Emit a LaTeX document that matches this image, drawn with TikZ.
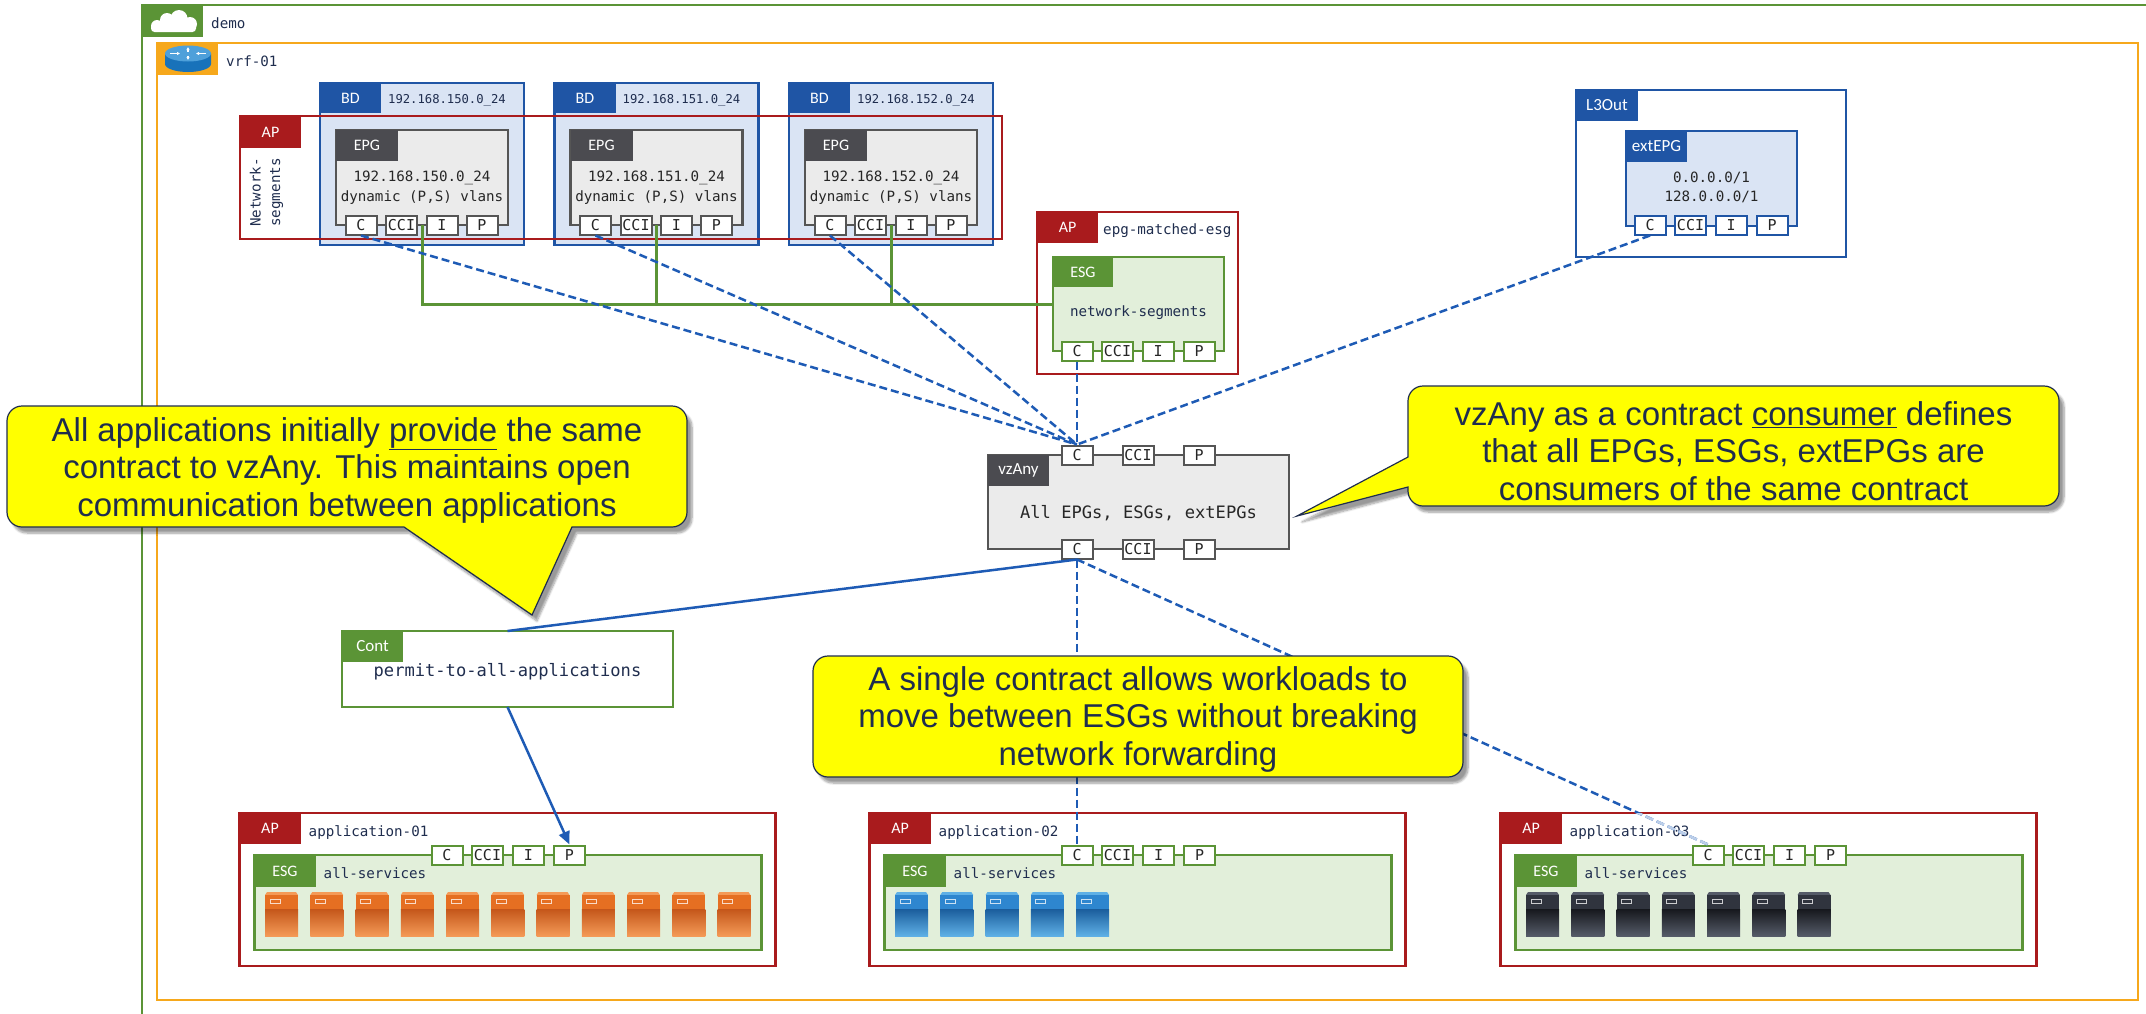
\documentclass[tikz,border=0pt]{standalone}
\usepackage{fontspec}
\setmainfont{Liberation Sans}
\newfontfamily\monof{DejaVu Sans Mono}
\newfontfamily\tabf{Carlito}
\usetikzlibrary{arrows.meta,shadows.blur}

\definecolor{tgreen}{HTML}{5B9436}
\definecolor{esgfill}{HTML}{E2EFDA}
\definecolor{vrforange}{HTML}{F6A81C}
\definecolor{apred}{HTML}{A91B1D}
\definecolor{bdblue}{HTML}{1F55A5}
\definecolor{bdfill}{HTML}{DAE4F4}
\definecolor{epgfill}{HTML}{EBEBEB}
\definecolor{epgline}{HTML}{555555}
\definecolor{epgtab}{HTML}{4B4B50}
\definecolor{linkblue}{HTML}{1E5BB5}
\definecolor{navy}{HTML}{1F2D4E}
\definecolor{calloutyellow}{HTML}{FFFF00}
\definecolor{rbody}{HTML}{1872BA}
\definecolor{rtop}{HTML}{4EA0DA}
% server colours: orange, blue, black
\definecolor{omain}{HTML}{E56F22}
\definecolor{olight}{HTML}{F49A57}
\definecolor{odark}{HTML}{C4561A}
\definecolor{bmain}{HTML}{2E86CF}
\definecolor{blight}{HTML}{5FB0E6}
\definecolor{bdark}{HTML}{1A5D9C}
\definecolor{kmain}{HTML}{30343E}
\definecolor{klight}{HTML}{555B68}
\definecolor{kdark}{HTML}{16181D}

\tikzset{
  boxframe/.style={rectangle, inner sep=0pt, outer sep=0pt, anchor=north west},
  tabbox/.style={boxframe, text=white, font=\tabf\fontsize{16}{18}\selectfont},
  lbl/.style={inner sep=0pt, anchor=base west, font=\monof\fontsize{14.2}{19.5}\selectfont, text=navy},
  bodytext/.style={inner sep=0pt, align=center, font=\monof\fontsize{14.2}{19.5}\selectfont, text=black!85},
  portbox/.style={rectangle, draw, fill=white, line width=2pt, minimum width=31pt, minimum height=19pt, inner sep=0pt, font=\monof\fontsize{15}{15}\selectfont, text=black!85},
  consumer/.style={draw=linkblue, line width=2.5pt, dash pattern=on 8pt off 4pt},
  provider/.style={draw=linkblue, line width=2.5pt},
  segbus/.style={draw=tgreen, line width=3pt},
  calloutbox/.style={fill=calloutyellow, draw=navy, line width=1.2pt, blur shadow={shadow xshift=5pt, shadow yshift=-6pt, shadow blur steps=8}},
  ctext/.style={inner sep=0pt, align=center, text=navy, font=\fontsize{33}{37.5}\selectfont},
}

% a server icon: top-left corner x, y and colour prefix
\newcommand\srvicon[3]{%
  \fill[#3light] ({#1+2},{#2}) -- ({#1+31},{#2}) -- ({#1+33},{#2+3}) -- ({#1},{#2+3}) -- cycle;
  \fill[#3main] ({#1},{#2+3}) rectangle ({#1+33},{#2+17});
  \shade[top color=#3dark, bottom color=#3light] ({#1},{#2+17}) rectangle ({#1+33},{#2+44});
  \draw[#3dark, line width=1pt] ({#1},{#2+17}) -- ({#1+33},{#2+17});
  \draw[white!75!#3main, line width=0.9pt] ({#1+5},{#2+7}) rectangle ({#1+15},{#2+11});
}

\begin{document}
\begin{tikzpicture}[x=1pt,y=-1pt]
\useasboundingbox (0,0) rectangle (2146,1013);
\clip (0,0) rectangle (2146,1013);

% ---------- tenant ----------
\node[boxframe, draw=tgreen, line width=2pt, minimum width=2200pt, minimum height=1200pt] (demo) at (142,5) {};
\node[tabbox, fill=tgreen, minimum width=61pt, minimum height=32pt] (demotab) at (142,5) {};
\fill[white] (157,26) circle (6) (167,20) circle (7) (179,18.5) circle (8.5) (190,24) circle (7);
\fill[white, rounded corners=3.5pt] (151,24) rectangle (196,32);
\node[lbl] (demolbl) at (211,28) {demo};

% ---------- VRF ----------
\node[boxframe, draw=vrforange, line width=2.5pt, minimum width=1981pt, minimum height=957pt] (vrf) at (157,43) {};
\node[tabbox, fill=vrforange, minimum width=61pt, minimum height=32pt] (vrftab) at (157,43) {};
\fill[rbody] (165,53.5) -- (165,64) arc[start angle=180, end angle=0, x radius=23, y radius=8] -- (211,53.5) -- cycle;
\fill[rtop] (188,53.5) ellipse[x radius=23, y radius=8];
\begin{scope}[white, line width=1.1pt, -{Latex[length=3pt,width=3.5pt]}]
  \draw (170,53.5) -- (180,53.5);
  \draw (206,53.5) -- (196,53.5);
  \draw (188,51.5) -- (188,47);
  \draw (188,55.5) -- (188,60);
\end{scope}
\node[lbl] (vrflbl) at (226,66.5) {vrf-01};

% ---------- bridge domains and EPGs ----------
\foreach \i/\x/\net in {1/320/150, 2/554.5/151, 3/789/152} {
  \node[boxframe, draw=bdblue, fill=bdfill, line width=2.5pt, minimum width=204pt, minimum height=162pt] (bd\i) at (\x,83) {};
  \node[tabbox, fill=bdblue, minimum width=61pt, minimum height=30pt] (bdtab\i) at (\x,83) {BD};
  \node[lbl, font=\monof\fontsize{12.2}{14}\selectfont] (bdlbl\i) at ({\x+68},103.5) {192.168.\net.0\_24};
}
% application profile holding the segment EPGs
\node[boxframe, draw=apred, line width=2.5pt, minimum width=762pt, minimum height=123pt] (apseg) at (240,116) {};
\node[tabbox, fill=apred, minimum width=61pt, minimum height=32pt] (apsegtab) at (240,116) {AP};
\node[bodytext, text=navy, rotate=90] (apseglbl) at (266.5,192.5) {Network-\\segments};

\foreach \i/\x/\net in {1/320/150, 2/554.5/151, 3/789/152} {
  \node[boxframe, draw=epgline, fill=epgfill, line width=2.5pt, minimum width=172pt, minimum height=95pt] (epg\i) at ({\x+16},130) {};
  \node[tabbox, fill=epgtab, minimum width=62pt, minimum height=31pt] (epgtab\i) at ({\x+16},130) {EPG};
  \node[bodytext] (epgtxt\i) at ({\x+102},187.5) {192.168.\net.0\_24\\dynamic (P,S) vlans};
  \node[portbox, draw=epgline] (epg\i-C) at ({\x+41},225) {C};
  \node[portbox, draw=epgline] (epg\i-CCI) at ({\x+81.5},225) {CCI};
  \node[portbox, draw=epgline] (epg\i-I) at ({\x+122},225) {I};
  \node[portbox, draw=epgline] (epg\i-P) at ({\x+162},225) {P};
}

% ---------- ESG matched from the segment EPGs ----------
\node[boxframe, draw=apred, fill=white, line width=2.5pt, minimum width=201pt, minimum height=162pt] (apesg) at (1037,212) {};
\node[tabbox, fill=apred, minimum width=61pt, minimum height=31pt] (apesgtab) at (1037,212) {AP};
\node[lbl] (apesglbl) at (1103,234) {epg-matched-esg};
\node[boxframe, draw=tgreen, fill=esgfill, line width=2.5pt, minimum width=171pt, minimum height=94pt] (esg0) at (1053,257) {};
\node[tabbox, fill=tgreen, minimum width=60pt, minimum height=30pt] (esg0tab) at (1053,257) {ESG};
\node[bodytext, text=navy] (esg0txt) at (1138.5,313) {network-segments};
\node[portbox, draw=tgreen] (esg0-C) at (1077,351) {C};
\node[portbox, draw=tgreen] (esg0-CCI) at (1117.5,351) {CCI};
\node[portbox, draw=tgreen] (esg0-I) at (1158,351) {I};
\node[portbox, draw=tgreen] (esg0-P) at (1199,351) {P};

% ---------- L3Out ----------
\node[boxframe, draw=bdblue, fill=white, line width=2.5pt, minimum width=270pt, minimum height=167pt] (l3out) at (1576,90) {};
\node[tabbox, fill=bdblue, minimum width=62pt, minimum height=31pt, font=\tabf\fontsize{17}{19}\selectfont] (l3outtab) at (1576,90) {L3Out};
\node[boxframe, draw=bdblue, fill=bdfill, line width=2.5pt, minimum width=171pt, minimum height=95pt] (extepg) at (1626,131) {};
\node[tabbox, fill=bdblue, minimum width=61pt, minimum height=31pt, font=\tabf\fontsize{17}{19}\selectfont] (extepgtab) at (1626,131) {extEPG};
\node[bodytext] (extepgtxt) at (1711.5,187.5) {0.0.0.0/1\\128.0.0.0/1};
\node[portbox, draw=bdblue] (ext-C) at (1650,225) {C};
\node[portbox, draw=bdblue] (ext-CCI) at (1690.5,225) {CCI};
\node[portbox, draw=bdblue] (ext-I) at (1731,225) {I};
\node[portbox, draw=bdblue] (ext-P) at (1772,225) {P};

% ---------- vzAny ----------
\node[boxframe, draw=epgline, fill=epgfill, line width=2.5pt, minimum width=301pt, minimum height=94pt] (vzany) at (988,455) {};
\node[tabbox, fill=epgtab, minimum width=61pt, minimum height=31pt, font=\tabf\fontsize{17}{19}\selectfont] (vzanytab) at (988,455) {vzAny};
\node[bodytext, font=\monof\fontsize{17.1}{20}\selectfont] (vzanytxt) at (1138.5,513) {All EPGs, ESGs, extEPGs};
\node[portbox, draw=epgline] (vz-tC) at (1077,455) {C};
\node[portbox, draw=epgline] (vz-tCCI) at (1138,455) {CCI};
\node[portbox, draw=epgline] (vz-tP) at (1199,455) {P};
\node[portbox, draw=epgline] (vz-bC) at (1077,549) {C};
\node[portbox, draw=epgline] (vz-bCCI) at (1138,549) {CCI};
\node[portbox, draw=epgline] (vz-bP) at (1199,549) {P};

% ---------- contract ----------
\node[boxframe, draw=tgreen, fill=white, line width=2.5pt, minimum width=331pt, minimum height=76pt] (cont) at (342,631) {};
\node[tabbox, fill=tgreen, minimum width=61pt, minimum height=31pt, font=\tabf\fontsize{17}{19}\selectfont] (conttab) at (342,631) {Cont};
\node[bodytext, text=navy, font=\monof\fontsize{17.1}{20}\selectfont] (conttxt) at (507.5,672) {permit-to-all-applications};

% ---------- application profiles ----------
\foreach \j/\ax/\n/\c in {1/239.5/11/o, 2/869.5/5/b, 3/1500.5/7/k} {
  \node[boxframe, draw=apred, fill=white, line width=2.5pt, minimum width=536pt, minimum height=153pt] (ap\j) at (\ax,813) {};
  \node[tabbox, fill=apred, minimum width=61pt, minimum height=31pt] (aptab\j) at (\ax,813) {AP};
  \node[lbl] (aplbl\j) at ({\ax+69},836) {application-0\j};
  \node[boxframe, draw=tgreen, fill=esgfill, line width=2.5pt, minimum width=507pt, minimum height=95pt] (esg\j) at ({\ax+15},855) {};
  \node[tabbox, fill=tgreen, minimum width=61pt, minimum height=32pt] (esgtab\j) at ({\ax+15},855) {ESG};
  \node[lbl] (esglbl\j) at ({\ax+84},878) {all-services};
  \foreach \k in {1,...,\n} {
    \pgfmathsetmacro\sx{\ax+25.5+45.25*(\k-1)}
    \srvicon{\sx}{892}{\c}
  }
  \node[portbox, draw=tgreen] (app\j-C) at ({\ax+207.5},855) {C};
  \node[portbox, draw=tgreen] (app\j-CCI) at ({\ax+248},855) {CCI};
  \node[portbox, draw=tgreen] (app\j-I) at ({\ax+289},855) {I};
  \node[portbox, draw=tgreen] (app\j-P) at ({\ax+330},855) {P};
}

% ---------- segment EPGs grouped into the ESG ----------
\foreach \i in {1,2,3} {
  \draw[segbus] (epg\i.south) |- (esg0.west);
}

% ---------- vzAny as consumer ----------
\foreach \src in {epg1-C, epg2-C, epg3-C, esg0-C, ext-C} {
  \draw[consumer] (\src.south) -- (vz-tC.north);
}

% ---------- vzAny towards the applications ----------
\draw[provider] (vz-bC.south) -- (cont.north);
\draw[provider, -{Triangle[length=13pt,width=11pt]}] (cont.south) -- (app1-P.north);
\draw[consumer] (vz-bC.south) -- (app2-C.north);
\draw[consumer] (vz-bC.south) -- (app3-C.north);
\begin{scope}
  \clip (ap3.north west) rectangle (ap3.south east);
  \draw[consumer, draw=linkblue!30] (vz-bC.south) -- (app3-C.north);
\end{scope}

% ---------- notes ----------
\path[calloutbox] (22,406) -- (672,406) arc[start angle=270, end angle=360, radius=15]
  -- (687,512) arc[start angle=0, end angle=90, radius=15]
  -- (572,527) -- (532,615) -- (404,527)
  -- (22,527) arc[start angle=90, end angle=180, radius=15]
  -- (7,421) arc[start angle=180, end angle=270, radius=15] -- cycle;
\node[ctext] (note1) at (347,470) {All applications initially \underline{provide} the same\\contract to vzAny. This maintains open\\communication between applications};

\path[calloutbox] (1423,386) -- (2044,386) arc[start angle=270, end angle=360, radius=15]
  -- (2059,491) arc[start angle=0, end angle=90, radius=15]
  -- (1423,506) arc[start angle=90, end angle=180, radius=15]
  -- (1408,487) -- (1297,516) -- (1408,457)
  -- (1408,401) arc[start angle=180, end angle=270, radius=15] -- cycle;
\node[ctext] (note2) at (1733.5,451) {vzAny as a contract \underline{consumer} defines\\that all EPGs, ESGs, extEPGs are\\consumers of the same contract};

\path[calloutbox, rounded corners=15pt] (813,656) rectangle (1463,777);
\node[ctext] (note3) at (1138,719) {A single contract allows workloads to\\move between ESGs without breaking\\network forwarding};

\end{tikzpicture}
\end{document}
